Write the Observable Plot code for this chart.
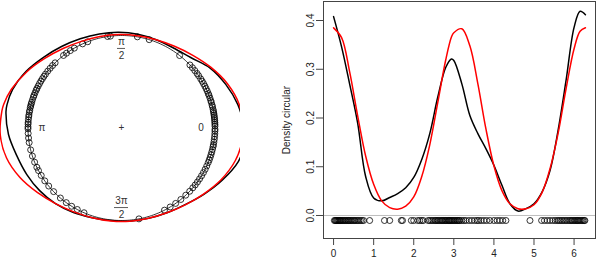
<!DOCTYPE html>
<html><head><meta charset="utf-8">
<script src="https://cdn.jsdelivr.net/npm/d3@7"></script>
<script src="https://cdn.jsdelivr.net/npm/@observablehq/plot@0.6"></script>
<style>
body{margin:0;background:#fff;}
#wrap{position:relative;width:600px;height:258px;overflow:hidden;font-family:"Liberation Sans",Arial,sans-serif;}
#left{position:absolute;left:0;top:0;width:240px;height:258px;overflow:hidden;}
#right{position:absolute;left:240px;top:0;width:360px;height:258px;overflow:hidden;}
svg{overflow:hidden;}
</style></head><body><div id="wrap"><div id="left"></div><div id="right"></div></div>
<script>
// observed angles (radians)
const observations = [
  0.02,0.04,0.06,0.08,0.10,0.12,0.14,0.16,0.18,0.20,0.23,0.25,0.28,0.30,0.33,0.36,0.38,0.41,0.44,0.47,0.50,0.53,0.56,0.60,0.63,0.67,0.71,0.75,0.90,
  1.27,1.40,1.69,1.72,1.94,2.00,2.10,2.15,2.20,2.24,
  2.36,2.40,2.44,2.48,2.52,2.55,2.58,2.61,2.64,2.67,2.70,2.72,2.75,2.78,2.80,2.83,2.86,2.88,2.90,2.92,2.95,2.97,3.00,3.02,3.05,3.08,3.10,3.13,3.15,
  3.20,3.25,3.30,3.38,3.45,3.52,3.58,3.62,3.68,3.75,3.82,3.90,4.00,4.08,4.15,4.22,4.30,
  4.90,
  5.19,5.26,5.33,5.40,5.47,5.53,5.58,5.62,5.66,5.70,5.74,5.78,5.82,5.86,5.90,5.93,5.96,5.99,6.02,6.05,6.08,6.10,6.13,6.16,6.19,6.22,6.25,6.27
];
// density evaluation angles
const gridAngles = [0,0.2,0.4,0.6,0.8,1.0,1.2,1.4,1.6,1.8,2.0,2.2,2.4,2.6,2.8,2.94,3.0,3.2,3.4,3.6,3.8,4.0,4.2,4.4,4.6,4.8,5.0,5.2,5.4,5.6,5.8,6.0,6.15,6.2832];
// black density (kernel estimate)
const densityBlack = [0.408,0.346,0.27,0.19,0.08,0.036,0.030,0.037,0.045,0.057,0.078,0.115,0.168,0.243,0.304,0.321,0.318,0.27,0.205,0.168,0.137,0.103,0.062,0.024,0.009,0.014,0.024,0.048,0.092,0.174,0.277,0.386,0.419,0.412];
// red density (fitted model)
const densityRed = [0.385,0.365,0.295,0.205,0.122,0.064,0.030,0.016,0.013,0.019,0.038,0.080,0.145,0.232,0.320,0.366,0.375,0.383,0.348,0.270,0.178,0.102,0.051,0.024,0.014,0.014,0.022,0.047,0.096,0.168,0.260,0.342,0.378,0.385];
// circular axis labels
const labelAngles = [0, Math.PI/2, Math.PI, 3*Math.PI/2];
const labelNumerators = ["0","π","π","3π"];
const labelDenominators = ["","2","","2"];
const xTicks = [0,1,2,3,4,5,6];
const yTicks = [0,0.1,0.2,0.3,0.4];
const yLabel = "Density circular";

const K = 0.78;   // radial scaling of density around circle
const LR = 0.85;  // label radius

const font = "Liberation Sans, Arial, sans-serif";

function radial(dens) {
  return gridAngles.map((a, i) => ({x: (1 + K*dens[i]) * Math.cos(a), y: (1 + K*dens[i]) * Math.sin(a)}));
}
const circle = d3.range(0, 2*Math.PI + 0.01, 0.02).map(a => ({x: Math.cos(a), y: Math.sin(a)}));
const labels = labelAngles.map((a, i) => ({
  x: LR*Math.cos(a),
  y: (i % 2 ? 0.86 : LR) * Math.sin(a),
  num: labelNumerators[i], den: labelDenominators[i]
}));
const fracs = labels.filter(d => d.den);

const left = Plot.plot({
  width: 240, height: 258, margin: 0,
  style: {fontFamily: font, fontSize: "10px", background: "white"},
  x: {domain: [-121/93.5, 119/93.5], axis: null},
  y: {domain: [-(258-127.5)/92.5, 127.5/92.5], axis: null},
  marks: [
    Plot.line(circle, {x: "x", y: "y", stroke: "black", strokeWidth: 0.8}),
    Plot.dot(observations, {x: a => Math.cos(a), y: a => Math.sin(a), r: 3, stroke: "black", strokeWidth: 0.8, fill: "none"}),
    Plot.line(radial(densityBlack), {x: "x", y: "y", stroke: "black", strokeWidth: 1.5, curve: "catmull-rom", clip: true}),
    Plot.line(radial(densityRed), {x: "x", y: "y", stroke: "red", strokeWidth: 1.5, curve: "catmull-rom", clip: true}),
    Plot.text([{x: 0, y: 0}], {x: "x", y: "y", text: () => "+", fill: "#333"}),
    Plot.text(labels.filter(d => !d.den), {x: "x", y: "y", text: "num", fill: "#333"}),
    Plot.text(fracs, {x: "x", y: "y", text: "num", dy: -7, fill: "#333"}),
    Plot.text(fracs, {x: "x", y: "y", text: "den", dy: 7, fill: "#333"}),
    Plot.ruleY(fracs, {y: "y", x1: d => d.x - (d.num.length*3 + 1)/93.5, x2: d => d.x + (d.num.length*3 + 1)/93.5, stroke: "#333", strokeWidth: 0.8})
  ]
});
document.getElementById("left").append(left);

const lineData = (dens) => gridAngles.map((a, i) => ({x: a, y: dens[i]}));

const right = Plot.plot({
  width: 360, height: 258,
  marginLeft: 83, marginRight: 5, marginTop: 1, marginBottom: 20,
  style: {fontFamily: font, fontSize: "10px", background: "white"},
  x: {domain: [-0.2513, 6.5345]},
  y: {domain: [-0.0472, 0.439]},
  marks: [
    Plot.ruleY([0], {stroke: "#bebebe"}),
    Plot.line(lineData(densityBlack), {x: "x", y: "y", stroke: "black", strokeWidth: 1.5, curve: "catmull-rom"}),
    Plot.line(lineData(densityRed), {x: "x", y: "y", stroke: "red", strokeWidth: 1.5, curve: "catmull-rom"}),
    Plot.dot(observations, {x: d => d, y: () => -0.0103, r: 3, stroke: "black", strokeWidth: 0.8, fill: "none"}),
    Plot.frame({stroke: "#444"}),
    Plot.axisX({ticks: xTicks, tickFormat: d3.format("d"), tickSize: 7, tickPadding: 4, label: null, stroke: "#444", color: "#222"}),
    Plot.axisY({ticks: yTicks, tickFormat: d3.format(".1f"), tickSize: 7, tickPadding: 3, tickRotate: -90,
      label: yLabel, labelAnchor: "center", labelArrow: "none", labelOffset: 41, stroke: "#444", color: "#222"})
  ]
});
document.getElementById("right").append(right);
</script>
</body></html>
